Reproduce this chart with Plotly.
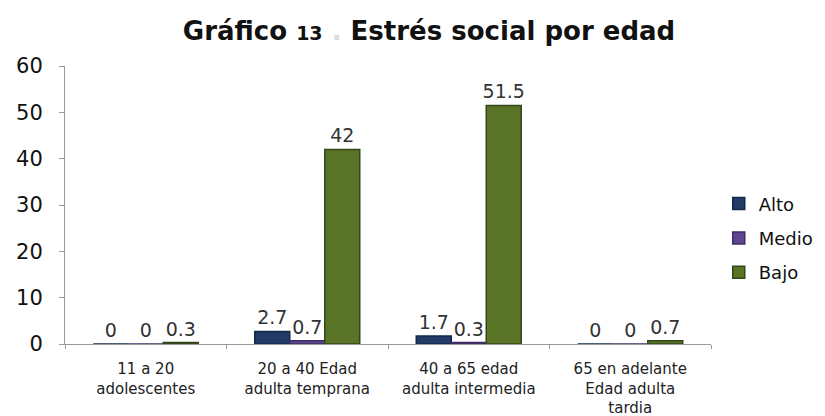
import plotly.graph_objects as go

categorias = [
    "11 a 20<br>adolescentes",
    "20 a 40 Edad<br>adulta temprana",
    "40 a 65 edad<br>adulta intermedia",
    "65 en adelante<br>Edad adulta<br>tardia",
]
alto = [0, 2.7, 1.7, 0]
medio = [0, 0.7, 0.3, 0]
bajo = [0.3, 42, 51.5, 0.7]

series = [
    ("Alto", alto, "#1F3B66", "#14284A"),
    ("Medio", medio, "#5E4690", "#3E2C66"),
    ("Bajo", bajo, "#5A7427", "#34461A"),
]

FUENTE = "DejaVu Sans, Liberation Sans, Arial"

fig = go.Figure()
for nombre, valores, color, borde in series:
    fig.add_trace(go.Bar(
        name=nombre,
        legendgroup=nombre,
        x=categorias,
        y=valores,
        text=[f"{v:g}" for v in valores],
        textposition="outside",
        constraintext="none",
        cliponaxis=False,
        textfont=dict(family=FUENTE, size=19, color="#333333"),
        marker=dict(color=color, line=dict(color=borde, width=1.5)),
    ))

fig.update_layout(
    width=825,
    height=416,
    barmode="group",
    bargap=0.35,
    bargroupgap=0,
    paper_bgcolor="white",
    plot_bgcolor="white",
    margin=dict(l=65, r=114, t=66, b=72, autoexpand=False),
    font=dict(family=FUENTE, color="#222222"),
    title=dict(
        text='<b>Gráfico <span style="font-size:19px">13</span> <span style="color:#dddddd">.</span> Estrés social por edad</b>',
        x=0.52,
        xanchor="center",
        y=0.925,
        yanchor="middle",
        font=dict(family=FUENTE, size=26, color="#111111"),
    ),
    legend=dict(
        x=1.012,
        xanchor="left",
        y=0.38,
        yanchor="middle",
        font=dict(family=FUENTE, size=18, color="#111111"),
        traceorder="grouped",
        tracegroupgap=8,
        itemwidth=30,
    ),
    showlegend=True,
)

fig.update_yaxes(
    range=[0, 60],
    dtick=10,
    automargin=False,
    showgrid=False,
    zeroline=False,
    showline=True,
    linecolor="#9a9a9a",
    linewidth=1,
    ticks="outside",
    ticklen=5,
    tickcolor="#9a9a9a",
    ticklabelstandoff=12,
    tickfont=dict(family=FUENTE, size=21, color="#111111"),
)
fig.update_xaxes(
    automargin=False,
    showgrid=False,
    showline=True,
    linecolor="#9a9a9a",
    linewidth=1,
    ticks="outside",
    tickson="boundaries",
    ticklen=4,
    tickcolor="#9a9a9a",
    ticklabelstandoff=11,
    tickfont=dict(family=FUENTE, size=15, color="#222222"),
)

fig.write_html("out.html")
